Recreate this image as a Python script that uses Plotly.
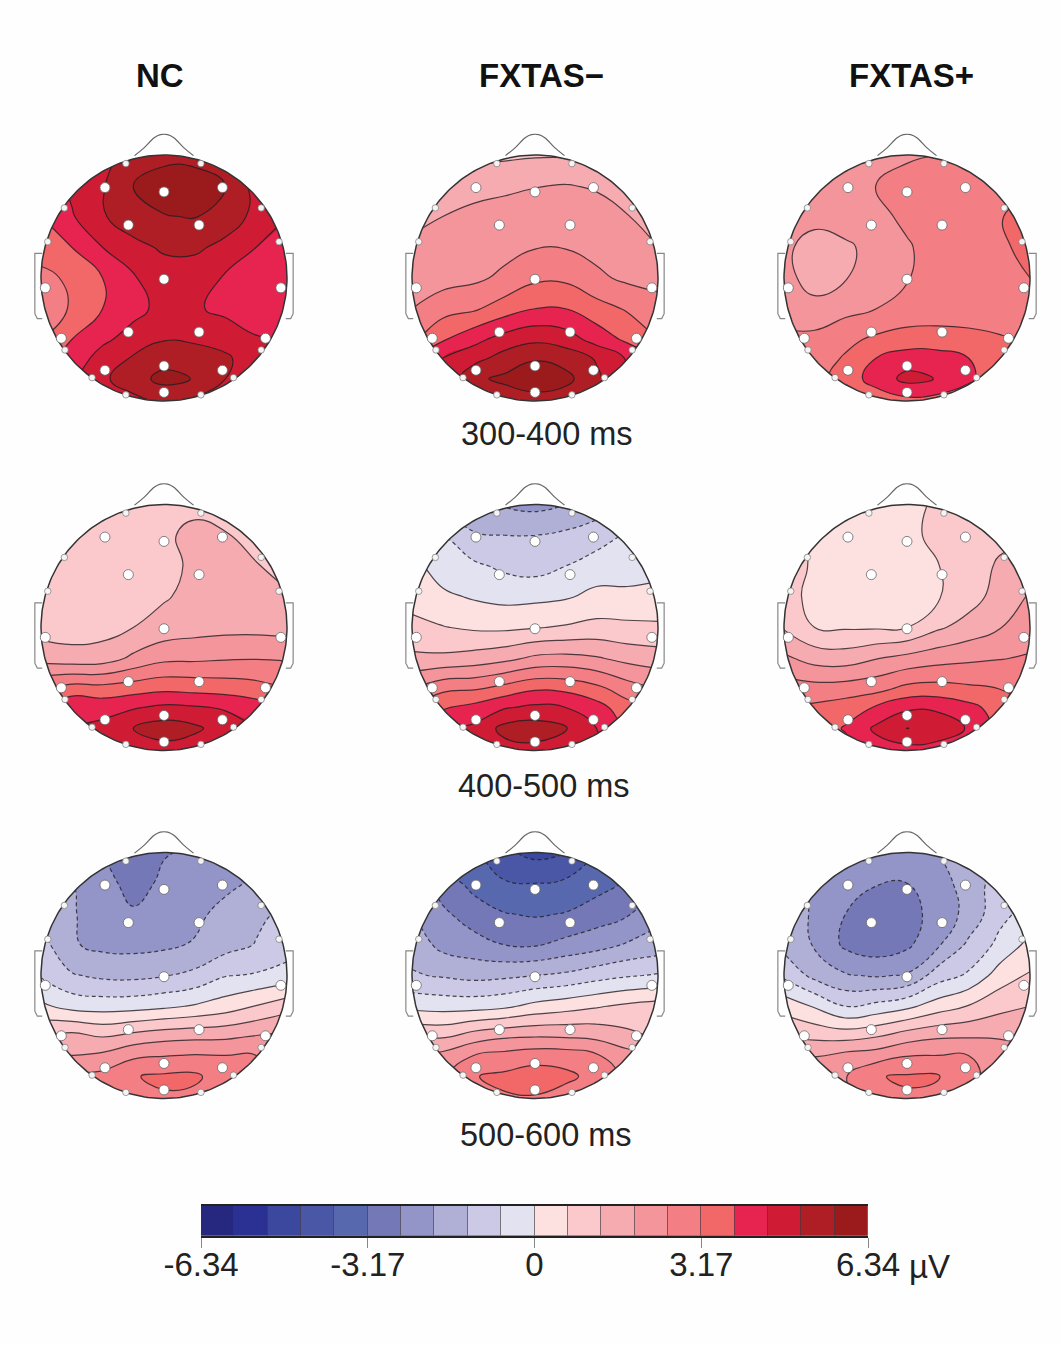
import numpy as np
import plotly.graph_objects as go

W, H = 1061, 1345
LEVEL_STEP = 0.634   # µV per colour band; the grids below are in band units
GROUPS = ["NC", "FXTAS\u2212", "FXTAS+"]
WINDOWS = ["300-400 ms", "400-500 ms", "500-600 ms"]
TICK_VALUES = [-6.34, -3.17, 0, 3.17, 6.34]
TICK_LABELS = ["-6.34", "-3.17", "0", "3.17", "6.34"]
BAND_COLORS = ["#26287f", "#2a3192", "#3b489e", "#4a57a6", "#5868ae", "#7478b6", "#9394c8", "#b0afd6", "#cbc9e5", "#e3e2f1",
               "#fde0e0", "#fbc9cb", "#f6abb1", "#f4959c", "#f37f84", "#f26768", "#e6244f", "#cf1b33", "#ae1e24", "#9b1a1c"]

GRID_X = [-1, -.75, -.5, -.25, 0, .25, .5, .75, 1]
GRID_Y = [1, .75, .5, .25, 0, -.25, -.5, -.65, -.82, -1]

NC_300 = [
 [7.2,7.2,7.6,8.4,8.7,8.6,7.8,7.3,7.2],
 [6.5,7.2,7.9,9.0,9.5,9.6,9.0,7.6,7.0],
 [6.0,6.9,7.9,8.6,8.95,9.05,8.6,7.7,7.0],
 [5.5,6.0,7.0,7.7,8.15,8.2,7.7,7.0,6.5],
 [4.7,5.2,6.0,6.9,7.5,7.4,6.9,6.5,6.3],
 [4.4,5.1,6.0,6.7,7.3,7.1,6.8,6.4,6.2],
 [5.0,6.0,6.8,7.4,7.95,7.85,7.5,7.1,7.0],
 [5.6,6.4,7.4,8.1,8.6,8.5,8.2,7.3,7.0],
 [6.0,6.8,7.8,8.6,9.3,8.95,8.0,7.6,7.0],
 [7.0,7.0,7.2,7.7,8.2,7.8,7.3,7.0,7.0]]
FM_300 = [
 [1.5,1.6,1.7,1.8,1.9,1.9,1.8,1.6,1.5],
 [2.0,2.2,2.6,2.8,2.96,3.05,2.9,2.2,2.0],
 [2.7,3.0,3.3,3.4,3.5,3.5,3.4,3.05,2.6],
 [3.2,3.4,3.5,3.7,3.95,3.95,3.7,3.35,3.0],
 [3.4,3.6,3.8,4.2,4.8,4.8,4.2,3.8,3.5],
 [4.0,4.6,4.85,5.5,6.0,6.0,5.4,4.9,4.6],
 [4.8,5.9,6.7,7.4,7.8,7.5,6.6,5.8,5.0],
 [6.0,7.0,7.6,8.4,8.9,8.6,7.9,6.9,6.0],
 [7.0,7.0,8.8,9.2,9.6,9.3,8.2,7.0,7.0],
 [7.0,7.0,7.8,8.4,8.6,8.4,8.0,7.0,7.0]]
FP_300 = [
 [3.2,3.3,3.4,3.6,3.85,4.0,4.2,4.3,4.3],
 [3.2,3.2,3.5,4.03,4.4,4.5,4.5,4.6,4.8],
 [3.3,3.3,3.6,3.75,4.2,4.5,4.6,4.95,5.3],
 [3.2,2.6,2.8,3.4,3.9,4.4,4.6,4.75,5.4],
 [3.3,2.6,2.95,3.5,3.95,4.3,4.5,4.6,5.0],
 [3.6,3.3,3.7,4.0,4.4,4.5,4.5,4.5,4.4],
 [4.2,4.3,4.75,5.2,5.4,5.4,5.3,5.1,4.8],
 [4.3,4.5,5.1,6.0,6.5,6.45,6.0,5.3,4.8],
 [4.4,4.6,5.5,6.4,7.3,6.95,6.2,5.3,4.7],
 [4.5,4.7,5.0,5.4,5.7,5.6,5.3,5.0,4.7]]
NC_400 = [
 [1.6,1.6,1.6,1.6,1.6,1.7,1.7,1.6,1.6],
 [1.6,1.5,1.4,1.4,1.8,2.3,2.05,1.7,1.7],
 [1.5,1.3,1.3,1.4,1.6,2.25,2.5,2.05,1.7],
 [1.4,1.3,1.35,1.5,1.9,2.3,2.5,2.4,2.1],
 [1.6,1.5,1.6,2.0,2.4,2.6,2.7,2.7,2.6],
 [2.6,2.4,2.5,3.2,3.75,3.8,3.9,3.95,3.9],
 [5.0,5.5,5.4,5.6,5.8,5.7,5.6,5.4,5.0],
 [6.0,6.8,6.6,6.9,7.2,7.1,6.9,6.5,6.0],
 [6.8,7.0,7.3,8.0,8.5,8.2,7.5,7.0,6.8],
 [7.0,7.0,7.2,7.4,7.6,7.4,7.2,7.0,7.0]]
FM_400 = [
 [-2.0,-2.0,-2.7,-3.1,-3.3,-3.0,-2.5,-2.0,-1.5],
 [-0.5,-1.0,-1.9,-2.0,-2.0,-1.8,-1.5,-0.9,-0.6],
 [0.3,-0.5,-0.8,-1.2,-1.4,-1.0,-0.5,-0.7,-0.4],
 [0.6,0.2,-0.1,-0.3,-0.25,-0.1,0.25,0.35,0.4],
 [1.3,1.05,0.85,0.8,0.95,1.1,1.3,1.2,1.15],
 [2.2,2.2,2.4,2.7,3.2,3.3,3.1,2.7,2.5],
 [4.0,4.8,4.9,5.4,5.9,5.8,5.3,4.5,4.0],
 [5.0,5.9,6.3,6.9,7.2,7.0,6.4,5.4,5.0],
 [6.0,6.7,7.2,8.3,8.5,8.05,7.0,6.0,6.0],
 [6.5,6.5,6.8,7.6,7.7,7.5,7.0,6.5,6.5]]
FP_400 = [
 [0.8,0.8,0.8,0.8,0.9,1.05,1.1,1.2,1.2],
 [1.4,0.8,0.6,0.5,0.6,1.4,1.6,1.8,1.8],
 [1.5,0.85,0.5,0.4,0.5,0.95,1.6,2.1,2.6],
 [1.4,0.7,0.4,0.35,0.5,0.9,1.55,2.4,3.1],
 [1.9,1.0,0.9,0.9,1.0,1.85,2.4,2.95,3.5],
 [3.2,2.6,2.5,2.95,3.3,3.6,3.8,3.95,4.1],
 [4.5,4.4,4.5,4.7,5.3,5.4,5.2,5.0,4.7],
 [5.0,5.2,5.5,6.1,6.8,6.8,6.3,5.6,5.0],
 [5.2,5.4,6.1,7.2,8.02,7.7,6.9,5.6,5.0],
 [5.0,5.3,5.6,6.5,6.6,6.5,6.0,5.3,5.0]]
NC_500 = [
 [-3.9,-3.9,-4.0,-4.5,-4.05,-3.9,-3.9,-3.6,-3.4],
 [-2.5,-3.0,-3.7,-4.3,-3.85,-3.5,-3.3,-2.8,-2.5],
 [-2.2,-2.9,-3.5,-3.9,-3.7,-3.3,-2.6,-2.2,-1.8],
 [-1.6,-2.9,-3.25,-3.3,-3.2,-2.9,-2.4,-1.95,-1.5],
 [-1.1,-1.9,-2.2,-2.25,-2.05,-1.75,-1.05,-0.9,-0.6],
 [0.2,-0.35,-0.45,-0.4,-0.2,0.1,0.5,1.05,1.6],
 [2.0,2.4,2.0,2.4,2.7,2.8,2.85,3.1,3.3],
 [3.0,3.0,3.2,3.8,3.95,4.05,4.0,4.0,3.7],
 [3.8,4.0,4.3,4.95,5.15,5.2,4.4,4.2,3.8],
 [3.8,3.9,4.0,4.5,4.9,4.7,4.2,3.9,3.8]]
FM_500 = [
 [-6.0,-6.0,-6.0,-6.8,-7.3,-7.1,-6.0,-5.5,-5.0],
 [-3.5,-4.5,-5.3,-5.9,-6.0,-5.8,-5.4,-4.9,-4.0],
 [-2.9,-3.8,-4.5,-4.95,-5.1,-4.95,-4.5,-4.1,-3.3],
 [-2.4,-3.3,-3.6,-4.0,-4.1,-3.7,-3.4,-2.9,-2.6],
 [-1.9,-2.1,-2.3,-2.2,-2.0,-1.8,-1.4,-1.1,-0.9],
 [-0.3,-0.4,-0.4,-0.2,0.3,0.6,0.9,1.2,1.4],
 [2.0,1.9,2.55,2.9,3.0,2.95,2.8,2.3,1.9],
 [3.0,3.3,4.0,4.3,4.55,4.5,4.1,3.4,3.0],
 [3.5,3.8,4.95,5.2,5.5,5.25,4.65,3.8,3.5],
 [3.5,3.8,4.4,4.9,4.9,4.5,4.6,3.8,3.5]]
FP_500 = [
 [-2.7,-2.8,-3.0,-3.2,-3.2,-3.0,-2.3,-2.0,-1.8],
 [-2.6,-3.0,-3.6,-3.95,-4.0,-3.5,-2.5,-1.6,-1.2],
 [-2.6,-3.1,-4.0,-4.5,-4.4,-3.6,-2.7,-1.3,-0.6],
 [-2.3,-3.1,-4.2,-4.6,-4.2,-3.15,-1.8,-0.75,0.3],
 [-1.2,-2.3,-2.9,-3.1,-2.9,-1.5,-0.85,0.45,1.1],
 [0.6,-0.1,-1.05,-0.7,-0.25,0.5,1.05,1.7,2.0],
 [2.0,1.8,1.7,2.0,2.6,2.9,2.95,2.9,2.7],
 [3.0,2.95,3.3,3.5,3.95,4.0,4.0,3.8,3.3],
 [3.5,3.4,3.95,4.95,5.1,5.1,4.2,3.7,3.4],
 [3.4,3.5,3.8,4.3,4.9,4.6,4.0,3.6,3.4]]
MAPS = [[NC_300, FM_300, FP_300], [NC_400, FM_400, FP_400], [NC_500, FM_500, FP_500]]

# electrode sites, in head radii
BIG_X = [-.48,0,.475,-.29,.285,0,-.965,.95,-.29,.285,-.835,.825,-.48,0,.475,0]
BIG_Y = [.735,.70,.735,.43,.43,-.01,-.08,-.08,-.44,-.44,-.49,-.49,-.75,-.715,-.75,-.93]
SMALL_X = [-.31,.30,-.81,.79,-.945,.935,-.805,.79,-.585,.565,-.31,.30]
SMALL_Y = [.93,.93,.57,.57,.295,.295,-.585,-.585,-.81,-.81,-.95,-.95]
NOSE_X = [-.24,-.16,-.08,-.03,.03,.08,.16,.24]
NOSE_Y = [.995,1.06,1.14,1.165,1.165,1.14,1.06,.995]
EAR_X = [.99,1.05,1.05,1.03,.99]
EAR_Y = [.20,.20,-.29,-.33,-.33]

COL_X = [164, 535, 907]
ROW_Y = [278, 627.5, 975.5]
R = 123
SPAN = 1.22
INK = "rgba(35,30,35,0.8)"

colorscale = []
for i, c in enumerate(BAND_COLORS):
    colorscale += [[i / 20, c], [(i + 1) / 20, c]]

theta = np.linspace(0, 2 * np.pi, 241)
cx_, cy_ = np.cos(theta), np.sin(theta)
mask_x = np.r_[1.012, 1.012, -1.012, -1.012, 1.012, cx_[::-1], 1.012]
mask_y = np.r_[0, 1.012, 1.012, -1.012, -1.012, cy_[::-1], 0]

fig = go.Figure()
layout = {}
n = 0
for r, cy in enumerate(ROW_Y):
    for c, cx in enumerate(COL_X):
        n += 1
        xa, ya = f"x{n}", f"y{n}"
        layout[f"xaxis{n}"] = dict(domain=[(cx - SPAN * R) / W, (cx + SPAN * R) / W], range=[-SPAN, SPAN], visible=False, anchor=ya, automargin=False)
        layout[f"yaxis{n}"] = dict(domain=[1 - (cy + SPAN * R) / H, 1 - (cy - SPAN * R) / H], range=[-SPAN, SPAN], visible=False, anchor=xa, automargin=False)
        z = np.array(MAPS[r][c]) * LEVEL_STEP
        fig.add_trace(go.Contour(x=GRID_X, y=GRID_Y, z=z, xaxis=xa, yaxis=ya, zauto=False, zmin=-10 * LEVEL_STEP, zmax=10 * LEVEL_STEP,
                                 colorscale=colorscale, showscale=False, autocontour=False, hoverinfo="skip",
                                 contours=dict(start=-9 * LEVEL_STEP, end=9 * LEVEL_STEP, size=LEVEL_STEP, coloring="fill"),
                                 line=dict(width=0, smoothing=1.3)))
        fig.add_trace(go.Contour(x=GRID_X, y=GRID_Y, z=z, xaxis=xa, yaxis=ya, showscale=False, autocontour=False, hoverinfo="skip",
                                 contours=dict(start=-9 * LEVEL_STEP, end=-1 * LEVEL_STEP, size=LEVEL_STEP, coloring="none"),
                                 line=dict(width=1.2, color=INK, dash="4px,3px", smoothing=1.3)))
        fig.add_trace(go.Contour(x=GRID_X, y=GRID_Y, z=z, xaxis=xa, yaxis=ya, showscale=False, autocontour=False, hoverinfo="skip",
                                 contours=dict(start=-1e-6, end=9 * LEVEL_STEP, size=LEVEL_STEP, coloring="none"),
                                 line=dict(width=1.2, color=INK, smoothing=1.3)))
        fig.add_trace(go.Scatter(x=mask_x, y=mask_y, xaxis=xa, yaxis=ya, mode="lines", fill="toself", fillcolor="#fefefe",
                                 line=dict(width=0), hoverinfo="skip", showlegend=False))
        fig.add_trace(go.Scatter(x=cx_, y=cy_, xaxis=xa, yaxis=ya, mode="lines", line=dict(color="#333333", width=1.5),
                                 hoverinfo="skip", showlegend=False))
        fig.add_trace(go.Scatter(x=NOSE_X, y=NOSE_Y, xaxis=xa, yaxis=ya, mode="lines", line=dict(color="#666666", width=1.2, shape="spline"),
                                 hoverinfo="skip", showlegend=False))
        for sgn in (-1, 1):
            fig.add_trace(go.Scatter(x=[sgn * v for v in EAR_X], y=EAR_Y, xaxis=xa, yaxis=ya, mode="lines", line=dict(color="#888888", width=1.2),
                                     hoverinfo="skip", showlegend=False))
        fig.add_trace(go.Scatter(x=SMALL_X, y=SMALL_Y, xaxis=xa, yaxis=ya, mode="markers",
                                 marker=dict(size=6.5, color="#f4f4f4", line=dict(color="#777777", width=0.7)), hoverinfo="skip", showlegend=False))
        fig.add_trace(go.Scatter(x=BIG_X, y=BIG_Y, xaxis=xa, yaxis=ya, mode="markers",
                                 marker=dict(size=10, color="white", line=dict(color="#666666", width=0.8)), hoverinfo="skip", showlegend=False))

# colour bar
n += 1
BAND_MID = [LEVEL_STEP * (i - 9.5) for i in range(20)]
fig.add_trace(go.Bar(x=BAND_MID, y=[1] * 20, width=LEVEL_STEP, xaxis=f"x{n}", yaxis=f"y{n}", marker=dict(color=BAND_COLORS, line=dict(color="rgba(40,30,40,0.45)", width=1)),
                     hoverinfo="skip", showlegend=False))
layout[f"xaxis{n}"] = dict(domain=[201 / W, 868 / W], range=[-6.34, 6.34], anchor=f"y{n}", tickmode="array", tickvals=TICK_VALUES, ticktext=TICK_LABELS,
                           ticks="outside", ticklen=10, tickcolor="#888888", tickwidth=1, showgrid=False, zeroline=False,
                           showline=True, linecolor="#222222", linewidth=2, mirror=True, automargin=False, ticklabelstandoff=-12,
                           tickfont=dict(family="Liberation Sans", size=33, color="#222222"))
layout[f"yaxis{n}"] = dict(domain=[1 - 1236 / H, 1 - 1206 / H], range=[0, 1], visible=False, anchor=f"x{n}", automargin=False)

annotations = []
for name, x in zip(GROUPS, [160, 541, 911]):
    annotations.append(dict(text=f"<b>{name}</b>", x=x / W, y=1 - 76 / H, xref="paper", yref="paper", showarrow=False, xanchor="center", yanchor="middle",
                            font=dict(family="Liberation Sans", size=33, color="#111111")))
for name, x, y in zip(WINDOWS, [547, 544, 546], [434, 786, 1135]):
    annotations.append(dict(text=name, x=x / W, y=1 - y / H, xref="paper", yref="paper", showarrow=False, xanchor="center", yanchor="middle",
                            font=dict(family="Liberation Sans", size=32.5, color="#222222")))
annotations.append(dict(text="\u00b5V", x=907 / W, y=1 - 1266 / H, xref="paper", yref="paper", showarrow=False, xanchor="left", yanchor="middle",
                        font=dict(family="Liberation Sans", size=33, color="#222222")))

fig.update_layout(template="none", width=W, height=H, margin=dict(l=0, r=0, t=0, b=0), paper_bgcolor="#fefefe", plot_bgcolor="#fefefe",
                  showlegend=False, annotations=annotations, bargap=0, **layout)
fig.write_html("out.html", config=dict(displayModeBar=False), post_script="document.body.style.margin='0';")
